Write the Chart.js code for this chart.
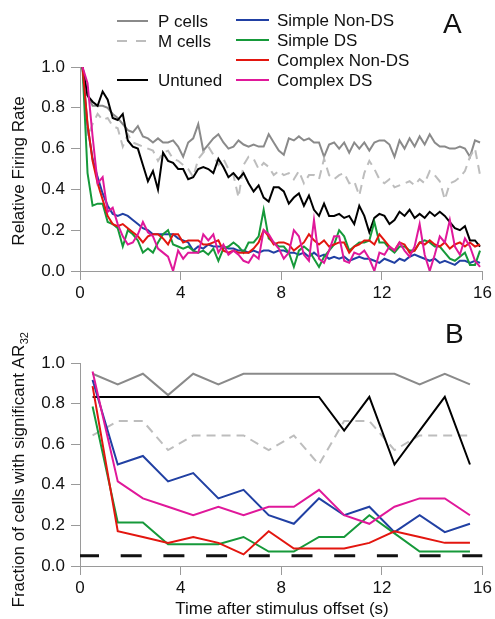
<!DOCTYPE html>
<html>
<head>
<meta charset="utf-8">
<title>Firing rate and AR32 fraction</title>
<script src="https://cdn.jsdelivr.net/npm/chart.js@4.4.1/dist/chart.umd.min.js"></script>
<style>
  html, body { margin: 0; padding: 0; background: #fff; }
  #wrap { position: relative; width: 495px; height: 619px; }
  #wrap canvas { position: absolute; left: 0; }
  #rateChart { top: 0; }
  #fracChart { top: 310px; }
</style>
</head>
<body>
<div id="wrap">
  <canvas id="rateChart" width="495" height="310"></canvas>
  <canvas id="fracChart" width="495" height="309"></canvas>
</div>
<script>
// ---- data ----
// 0.2 s bins (bin centres) for the firing-rate traces
var rateTimes = [
  0.1, 0.3, 0.5, 0.7, 0.9, 1.1, 1.3, 1.5, 1.7, 1.9, 2.1, 2.3, 2.5, 2.7, 2.9, 3.1, 3.3, 3.5, 3.7, 3.9,
  4.1, 4.3, 4.5, 4.7, 4.9, 5.1, 5.3, 5.5, 5.7, 5.9, 6.1, 6.3, 6.5, 6.7, 6.9, 7.1, 7.3, 7.5, 7.7, 7.9,
  8.1, 8.3, 8.5, 8.7, 8.9, 9.1, 9.3, 9.5, 9.7, 9.9, 10.1, 10.3, 10.5, 10.7, 10.9, 11.1, 11.3, 11.5, 11.7, 11.9,
  12.1, 12.3, 12.5, 12.7, 12.9, 13.1, 13.3, 13.5, 13.7, 13.9, 14.1, 14.3, 14.5, 14.7, 14.9, 15.1, 15.3, 15.5, 15.7, 15.9
];

var pCellsRate = [
  1.00, 0.86, 0.81, 0.81, 0.81, 0.80, 0.77, 0.75, 0.72, 0.69, 0.68, 0.71, 0.66, 0.65, 0.63, 0.65, 0.63, 0.63, 0.64, 0.61,
  0.56, 0.63, 0.65, 0.72, 0.59, 0.62, 0.65, 0.67, 0.63, 0.60, 0.61, 0.64, 0.62, 0.61, 0.62, 0.61, 0.61, 0.67, 0.63, 0.59,
  0.57, 0.65, 0.64, 0.66, 0.64, 0.65, 0.63, 0.63, 0.56, 0.62, 0.63, 0.60, 0.63, 0.58, 0.63, 0.60, 0.63, 0.59, 0.63, 0.64,
  0.64, 0.62, 0.56, 0.64, 0.60, 0.65, 0.61, 0.66, 0.62, 0.67, 0.63, 0.61, 0.61, 0.60, 0.60, 0.61, 0.60, 0.56, 0.64, 0.63
];
var mCellsRate = [
  1.00, 0.66, 0.72, 0.77, 0.74, 0.75, 0.71, 0.70, 0.61, 0.67, 0.63, 0.62, 0.61, 0.60, 0.59, 0.54, 0.58, 0.59, 0.55, 0.54,
  0.52, 0.50, 0.46, 0.55, 0.58, 0.61, 0.57, 0.52, 0.55, 0.50, 0.47, 0.36, 0.52, 0.56, 0.55, 0.50, 0.53, 0.51, 0.47, 0.49,
  0.47, 0.48, 0.45, 0.49, 0.43, 0.47, 0.47, 0.45, 0.55, 0.47, 0.45, 0.47, 0.48, 0.43, 0.44, 0.37, 0.48, 0.54, 0.50, 0.45,
  0.43, 0.45, 0.41, 0.42, 0.43, 0.44, 0.42, 0.45, 0.43, 0.49, 0.47, 0.44, 0.35, 0.43, 0.44, 0.46, 0.49, 0.56, 0.60, 0.47
];
var untunedRate = [
  1.00, 0.86, 0.83, 0.81, 0.88, 0.84, 0.75, 0.74, 0.77, 0.64, 0.61, 0.60, 0.52, 0.44, 0.49, 0.40, 0.58, 0.54, 0.53, 0.50,
  0.50, 0.45, 0.46, 0.50, 0.51, 0.50, 0.48, 0.55, 0.51, 0.46, 0.48, 0.45, 0.48, 0.43, 0.39, 0.42, 0.36, 0.34, 0.41, 0.41,
  0.39, 0.33, 0.36, 0.38, 0.32, 0.37, 0.30, 0.27, 0.33, 0.27, 0.27, 0.28, 0.26, 0.27, 0.23, 0.32, 0.27, 0.19, 0.26, 0.28,
  0.27, 0.23, 0.25, 0.29, 0.27, 0.30, 0.26, 0.28, 0.26, 0.29, 0.27, 0.29, 0.27, 0.24, 0.21, 0.20, 0.22, 0.15, 0.15, 0.12
];
var simpleNonDsRate = [
  1.00, 0.71, 0.55, 0.46, 0.38, 0.32, 0.28, 0.27, 0.28, 0.27, 0.25, 0.23, 0.21, 0.20, 0.18, 0.18, 0.18, 0.18, 0.18, 0.16,
  0.15, 0.14, 0.10, 0.12, 0.11, 0.13, 0.12, 0.12, 0.12, 0.11, 0.11, 0.10, 0.10, 0.09, 0.10, 0.09, 0.10, 0.10, 0.09, 0.10,
  0.10, 0.09, 0.09, 0.08, 0.09, 0.07, 0.09, 0.07, 0.08, 0.06, 0.07, 0.06, 0.07, 0.05, 0.06, 0.07, 0.06, 0.06, 0.05, 0.04,
  0.06, 0.05, 0.04, 0.06, 0.05, 0.07, 0.08, 0.07, 0.06, 0.05, 0.06, 0.04, 0.05, 0.04, 0.03, 0.05, 0.05, 0.04, 0.05, 0.04
];
var simpleDsRate = [
  1.00, 0.48, 0.32, 0.33, 0.33, 0.24, 0.23, 0.21, 0.12, 0.20, 0.18, 0.15, 0.09, 0.11, 0.09, 0.14, 0.18, 0.20, 0.13, 0.12,
  0.11, 0.12, 0.10, 0.09, 0.10, 0.08, 0.11, 0.05, 0.11, 0.12, 0.14, 0.12, 0.09, 0.14, 0.14, 0.17, 0.30, 0.16, 0.14, 0.12,
  0.12, 0.09, 0.02, 0.10, 0.12, 0.10, 0.06, 0.02, 0.07, 0.10, 0.13, 0.20, 0.17, 0.10, 0.12, 0.14, 0.14, 0.15, 0.24, 0.14,
  0.14, 0.11, 0.09, 0.12, 0.12, 0.10, 0.10, 0.14, 0.15, 0.14, 0.12, 0.12, 0.09, 0.06, 0.05, 0.07, 0.09, 0.03, 0.03, 0.10
];
var complexNonDsRate = [
  1.00, 0.72, 0.54, 0.43, 0.35, 0.27, 0.23, 0.22, 0.23, 0.21, 0.19, 0.17, 0.14, 0.17, 0.18, 0.18, 0.16, 0.13, 0.18, 0.18,
  0.14, 0.15, 0.15, 0.15, 0.13, 0.13, 0.14, 0.15, 0.10, 0.09, 0.10, 0.09, 0.09, 0.09, 0.11, 0.14, 0.20, 0.17, 0.13, 0.14,
  0.14, 0.13, 0.10, 0.12, 0.14, 0.18, 0.15, 0.13, 0.15, 0.12, 0.13, 0.14, 0.14, 0.09, 0.12, 0.13, 0.15, 0.15, 0.13, 0.18,
  0.15, 0.12, 0.10, 0.14, 0.13, 0.09, 0.10, 0.14, 0.13, 0.15, 0.13, 0.12, 0.14, 0.11, 0.13, 0.14, 0.12, 0.14, 0.12, 0.13
];
var complexDsRate = [
  1.00, 0.92, 0.66, 0.43, 0.46, 0.29, 0.31, 0.23, 0.17, 0.13, 0.14, 0.18, 0.24, 0.19, 0.17, 0.11, 0.09, 0.07, 0.00, 0.10,
  0.06, 0.09, 0.09, 0.09, 0.18, 0.15, 0.18, 0.09, 0.13, 0.08, 0.10, 0.08, 0.05, 0.04, 0.08, 0.06, 0.20, 0.18, 0.14, 0.11,
  0.06, 0.09, 0.20, 0.17, 0.08, 0.05, 0.25, 0.06, 0.04, 0.10, 0.17, 0.17, 0.05, 0.04, 0.09, 0.08, 0.10, 0.06, 0.00, 0.09,
  0.08, 0.12, 0.10, 0.14, 0.10, 0.07, 0.12, 0.23, 0.08, 0.00, 0.08, 0.17, 0.14, 0.25, 0.12, 0.08, 0.16, 0.12, 0.05, 0.02
];

// 1 s bins for the AR32 fractions
var fracTimes = [0.5, 1.5, 2.5, 3.5, 4.5, 5.5, 6.5, 7.5, 8.5, 9.5, 10.5, 11.5, 12.5, 13.5, 14.5, 15.5];
var pCellsFrac = [0.947, 0.895, 0.947, 0.842, 0.947, 0.895, 0.947, 0.947, 0.947, 0.947, 0.947, 0.947, 0.947, 0.895, 0.947, 0.895];
var mCellsFrac = [0.643, 0.714, 0.714, 0.571, 0.643, 0.643, 0.643, 0.571, 0.643, 0.500, 0.714, 0.714, 0.571, 0.643, 0.643, 0.643];
var untunedFrac = [0.833, 0.833, 0.833, 0.833, 0.833, 0.833, 0.833, 0.833, 0.833, 0.833, 0.667, 0.833, 0.500, 0.667, 0.833, 0.500];
var simpleNonDsFrac = [0.917, 0.500, 0.542, 0.417, 0.458, 0.333, 0.375, 0.250, 0.208, 0.333, 0.250, 0.292, 0.167, 0.250, 0.167, 0.208];
var simpleDsFrac = [0.786, 0.214, 0.214, 0.107, 0.107, 0.107, 0.143, 0.071, 0.071, 0.143, 0.143, 0.250, 0.161, 0.071, 0.071, 0.071];
var complexNonDsFrac = [0.886, 0.171, 0.143, 0.114, 0.143, 0.114, 0.057, 0.171, 0.086, 0.086, 0.086, 0.114, 0.171, 0.143, 0.114, 0.114];
var complexDsFrac = [0.958, 0.417, 0.333, 0.292, 0.250, 0.292, 0.250, 0.292, 0.292, 0.375, 0.250, 0.208, 0.292, 0.333, 0.333, 0.250];
// chance level for the AR32 test
var chanceTimes = [0, 16];
var chanceLevel = [0.05, 0.05];

var xTickValues = [0, 4, 8, 12, 16];
var yTickValues = [0, 0.2, 0.4, 0.6, 0.8, 1.0];

// ---- styles ----
var FONT = '"Liberation Sans", Arial, Helvetica, sans-serif';
var AXIS_GRAY = '#9a9a9a';
var groups = [
  { label: 'P cells',         color: '#8a8a8a', dash: [] },
  { label: 'M cells',         color: '#bdbdbd', dash: [9, 6] },
  { label: 'Untuned',         color: '#000000', dash: [] },
  { label: 'Simple Non-DS',   color: '#2140a3', dash: [] },
  { label: 'Simple DS',       color: '#16993a', dash: [] },
  { label: 'Complex Non-DS',  color: '#e3160f', dash: [] },
  { label: 'Complex DS',      color: '#e0189a', dash: [] }
];

function toPoints(xs, ys) {
  return xs.map(function (x, i) { return { x: x, y: ys[i] }; });
}

function lineSet(group, xs, ys, idx) {
  return {
    label: group.label,
    data: toPoints(xs, ys),
    borderColor: group.color,
    borderDash: group.dash,
    borderWidth: 2,
    pointRadius: 0,
    tension: 0,
    fill: false,
    order: 10 - idx   // later groups drawn on top
  };
}

function axes(xAxisHeight) {
  return {
    x: {
      type: 'linear', min: 0, max: 16,
      afterBuildTicks: function (s) { s.ticks = xTickValues.map(function (v) { return { value: v }; }); },
      afterFit: function (s) { s.height = xAxisHeight; },
      grid: { display: true, drawOnChartArea: false, drawTicks: true, tickLength: 9, color: AXIS_GRAY },
      border: { display: true, color: AXIS_GRAY, width: 1 },
      ticks: { color: '#111', font: { family: FONT, size: 17 }, padding: 3, maxRotation: 0, autoSkip: false }
    },
    y: {
      min: 0, max: 1,
      afterBuildTicks: function (s) { s.ticks = yTickValues.map(function (v) { return { value: v }; }); },
      afterFit: function (s) { s.width = 80; },
      grid: { display: true, drawOnChartArea: false, drawTicks: true, tickLength: 9, color: AXIS_GRAY },
      border: { display: true, color: AXIS_GRAY, width: 1 },
      ticks: { color: '#111', font: { family: FONT, size: 17 }, padding: 6,
               callback: function (v) { return Number(v).toFixed(1); } }
    }
  };
}

// ---- text overlays ----
function drawLegendRow(ctx, ds, x0, x1, y, textX) {
  ctx.save();
  ctx.strokeStyle = ds.borderColor;
  ctx.lineWidth = 2;
  ctx.setLineDash(ds.borderDash && ds.borderDash.length ? [10, 9] : []);
  ctx.beginPath();
  ctx.moveTo(x0, y);
  ctx.lineTo(x1, y);
  ctx.stroke();
  ctx.restore();
  ctx.fillText(ds.label, textX, y + 6);
}

var rateOverlay = {
  id: 'rateOverlay',
  afterDraw: function (chart) {
    var ctx = chart.ctx;
    var sets = chart.data.datasets;
    ctx.save();
    ctx.fillStyle = '#111';
    ctx.font = '17px ' + FONT;
    ctx.textAlign = 'left';
    ctx.textBaseline = 'alphabetic';
    drawLegendRow(ctx, sets[0], 117, 148, 21, 158);
    drawLegendRow(ctx, sets[1], 117, 148, 41, 158);
    drawLegendRow(ctx, sets[2], 117, 148, 80, 158);
    drawLegendRow(ctx, sets[3], 236, 269, 20, 277);
    drawLegendRow(ctx, sets[4], 236, 269, 40, 277);
    drawLegendRow(ctx, sets[5], 236, 269, 60, 277);
    drawLegendRow(ctx, sets[6], 236, 269, 80, 277);

    ctx.font = '28px ' + FONT;
    ctx.fillText('A', 443, 33);

    ctx.font = '17px ' + FONT;
    ctx.translate(24, 171);
    ctx.rotate(-Math.PI / 2);
    ctx.textAlign = 'center';
    ctx.fillText('Relative Firing Rate', 0, 0);
    ctx.restore();
  }
};

var fracOverlay = {
  id: 'fracOverlay',
  afterDraw: function (chart) {
    var ctx = chart.ctx;
    ctx.save();
    ctx.fillStyle = '#111';
    ctx.textBaseline = 'alphabetic';

    ctx.font = '28px ' + FONT;
    ctx.textAlign = 'left';
    ctx.fillText('B', 445, 33);

    ctx.font = '17px ' + FONT;
    ctx.textAlign = 'center';
    ctx.fillText('Time after stimulus offset (s)', 282, 304);

    // y title with subscript
    var main = 'Fraction of cells with significant AR';
    var sub = '32';
    ctx.font = '17px ' + FONT;
    var wMain = ctx.measureText(main).width;
    ctx.font = '11px ' + FONT;
    var wSub = ctx.measureText(sub).width;
    ctx.translate(24, 160);
    ctx.rotate(-Math.PI / 2);
    ctx.textAlign = 'left';
    var start = -(wMain + wSub) / 2;
    ctx.font = '17px ' + FONT;
    ctx.fillText(main, start, 0);
    ctx.font = '11px ' + FONT;
    ctx.fillText(sub, start + wMain + 0.5, 4);
    ctx.restore();
  }
};

// ---- charts ----
var rateSets = [pCellsRate, mCellsRate, untunedRate, simpleNonDsRate, simpleDsRate, complexNonDsRate, complexDsRate]
  .map(function (ys, i) { return lineSet(groups[i], rateTimes, ys, i); });

var rateChart = new Chart(document.getElementById('rateChart'), {
  type: 'line',
  data: { datasets: rateSets },
  options: {
    responsive: false,
    animation: false,
    layout: { padding: { top: 67, right: 12, left: 0, bottom: 0 } },
    scales: axes(39),
    plugins: { legend: { display: false }, tooltip: { enabled: false } }
  },
  plugins: [rateOverlay]
});

var fracSets = [pCellsFrac, mCellsFrac, untunedFrac, simpleNonDsFrac, simpleDsFrac, complexNonDsFrac, complexDsFrac]
  .map(function (ys, i) { return lineSet(groups[i], fracTimes, ys, i); });
fracSets.push({
  label: 'chance',
  data: toPoints(chanceTimes, chanceLevel),
  borderColor: '#111',
  borderWidth: 3,
  borderDash: [21, 21.7],
  borderDashOffset: 2,
  borderCapStyle: 'butt',
  pointRadius: 0,
  order: 0
});

var fracChart = new Chart(document.getElementById('fracChart'), {
  type: 'line',
  data: { datasets: fracSets },
  options: {
    responsive: false,
    animation: false,
    layout: { padding: { top: 53, right: 12, left: 0, bottom: 0 } },
    scales: axes(53),
    plugins: { legend: { display: false }, tooltip: { enabled: false } }
  },
  plugins: [fracOverlay]
});
</script>
</body>
</html>
